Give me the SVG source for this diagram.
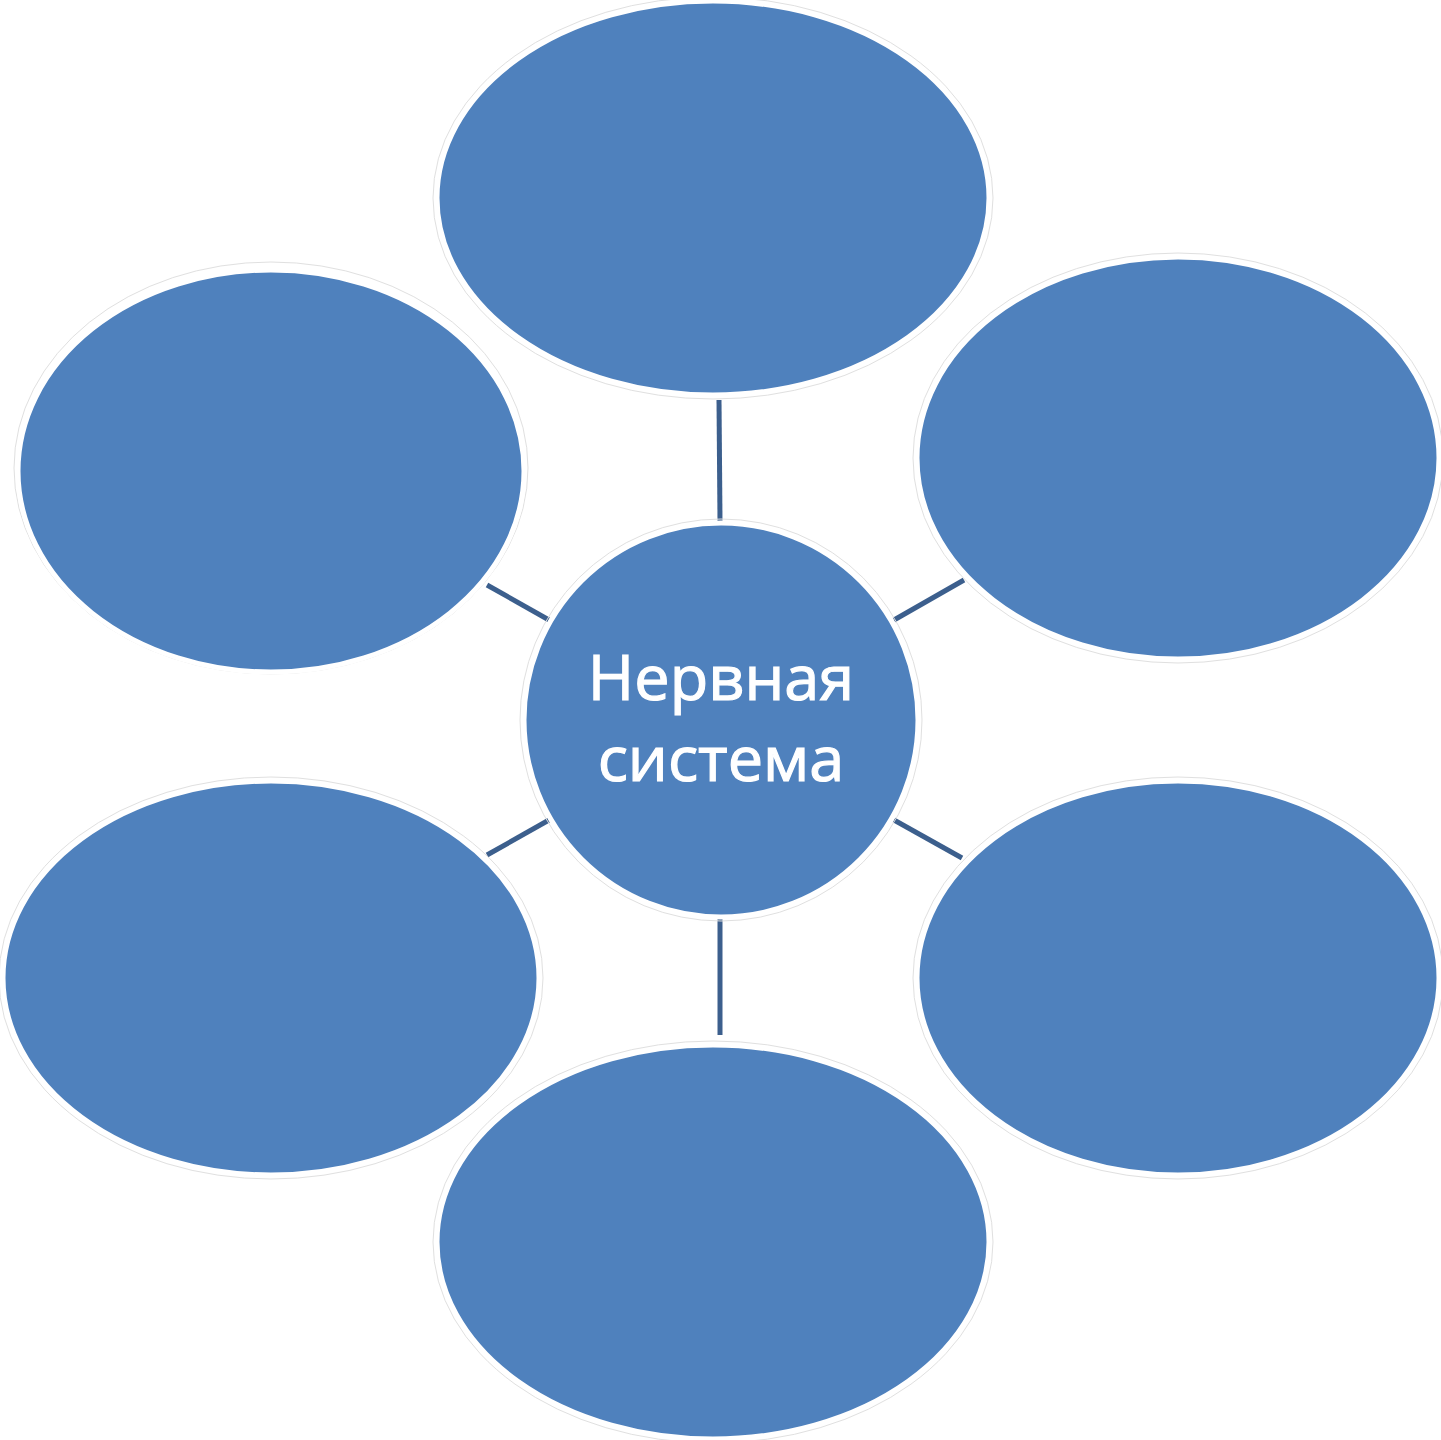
<svg xmlns="http://www.w3.org/2000/svg" width="1441" height="1440" viewBox="0 0 1441 1440">
<style>
.halo{fill:none;stroke:#e0e0e0;stroke-width:1}
.node{fill:#4F81BD;stroke:#ffffff;stroke-width:5}
.conn{stroke:#3C5F8D;stroke-width:5;stroke-linecap:butt}
.lbl{font-family:"Open Sans","Noto Sans","DejaVu Sans",sans-serif;font-size:63px;fill:#ffffff;stroke:#ffffff;stroke-width:1.2;text-anchor:middle}
</style>
<rect width="1441" height="1440" fill="#ffffff"/>
<g id="connectors">
<line class="conn" x1="719" y1="400" x2="720" y2="521"/>
<line class="conn" x1="720" y1="918" x2="720" y2="1035"/>
<line class="conn" x1="894" y1="620" x2="964" y2="580"/>
<line class="conn" x1="487" y1="585" x2="549" y2="620"/>
<line class="conn" x1="487" y1="855" x2="549" y2="820"/>
<line class="conn" x1="894" y1="820" x2="962" y2="858"/>
</g>
<g id="node-top">
<ellipse class="halo" cx="713" cy="198" rx="280" ry="201"/>
<ellipse class="node" cx="713" cy="198" rx="276" ry="197"/>
</g>
<g id="node-top-right">
<ellipse class="halo" cx="1178" cy="458" rx="265" ry="205"/>
<ellipse class="node" cx="1178" cy="458" rx="261" ry="201"/>
</g>
<g id="node-top-left">
<ellipse class="halo" cx="271" cy="468" rx="257" ry="206"/>
<ellipse class="node" cx="271" cy="471" rx="253" ry="201"/>
</g>
<g id="node-bottom-left">
<ellipse class="halo" cx="271" cy="978" rx="272" ry="201"/>
<ellipse class="node" cx="271" cy="978" rx="268" ry="197"/>
</g>
<g id="node-bottom-right">
<ellipse class="halo" cx="1178" cy="978" rx="265" ry="201"/>
<ellipse class="node" cx="1178" cy="978" rx="261" ry="197"/>
</g>
<g id="node-bottom">
<ellipse class="halo" cx="713" cy="1242" rx="280" ry="201"/>
<ellipse class="node" cx="713" cy="1242" rx="276" ry="197"/>
</g>
<g id="node-center">
<circle class="halo" cx="721" cy="720" r="201"/>
<circle class="node" cx="721" cy="720" r="197"/>
<text class="lbl" x="721" y="700">Нервная</text>
<text class="lbl" x="721" y="781">система</text>
</g>
</svg>
